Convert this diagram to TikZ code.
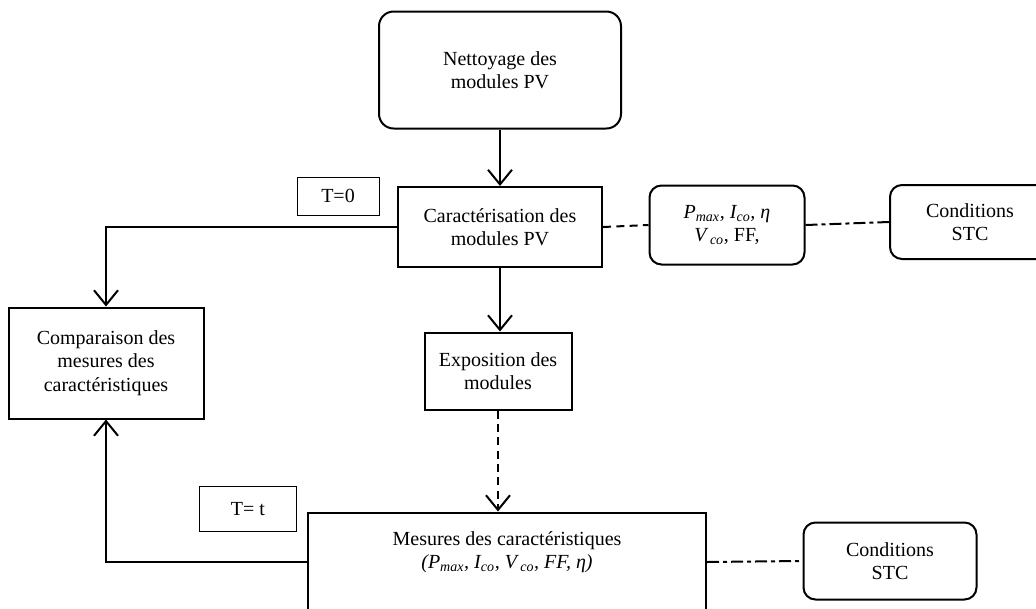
\documentclass[tikz,border=0pt]{standalone}
\usepackage{fontspec}
\setmainfont{Liberation Serif}
\usetikzlibrary{arrows.meta}

\begin{document}
\begin{tikzpicture}[x=0.75pt, y=-0.75pt,
    box/.style={draw, line width=1.5pt, inner sep=0pt, align=center, font=\fontsize{15}{17.5}\selectfont},
    rbox/.style={box, rounded corners=9pt},
    tag/.style={draw, line width=0.75pt, inner sep=0pt, font=\fontsize{15}{17.5}\selectfont},
    arr/.style={line width=1.5pt, -{Straight Barb[length=11pt, width=18pt, line width=1.5pt]}},
    lnk/.style={line width=1.5pt},
    dash1/.style={line width=1.5pt, dash pattern=on 6pt off 4pt},
    dashdot/.style={line width=1.5pt, dash pattern=on 9pt off 3pt on 3pt off 3pt}]
    \useasboundingbox (0,0) rectangle (1036,608);

    % Boxes
    \node[rbox, rounded corners=11pt, minimum width=181.5pt, minimum height=87.75pt] (nett) at (500,70) {Nettoyage des\\modules PV};
    \node[box, minimum width=153pt, minimum height=60pt] (carac) at (500,227) {Caractérisation des\\modules PV};
    \node[tag, minimum width=61.5pt, minimum height=28.5pt] (t0) at (338,196) {T=0};
    \node[rbox, minimum width=116.25pt, minimum height=59.25pt] (param) at (727,225)
        {\textit{P\textsubscript{max}, I\textsubscript{co}, η}\\\textit{V\,\textsubscript{co}}, FF,};
    \node[rbox, minimum width=120pt, minimum height=55.5pt] (stc1) at (970,222) {Conditions\\STC};
    \node[box, minimum width=146.25pt, minimum height=83.25pt] (comp) at (106,363) {Comparaison des\\mesures des\\caractéristiques};
    \node[box, minimum width=110.25pt, minimum height=57.75pt] (expo) at (498,371) {Exposition des\\modules};
    \node[box, minimum width=298.5pt, minimum height=74.25pt] (mes) at (507,562)
        {Mesures des caractéristiques\\\textit{(P\textsubscript{max}, I\textsubscript{co}, V\,\textsubscript{co}, FF, η)}\\\mbox{}};
    \node[tag, minimum width=72.75pt, minimum height=33.75pt] (tt) at (248,509) {T= t};
    \node[rbox, minimum width=129.75pt, minimum height=57.75pt] (stc2) at (890,561) {Conditions\\STC};

    % Links
    \draw[arr] (nett.south) -- (carac.north);
    \draw[arr] (carac.south) -- (carac.south |- expo.north);
    \draw[arr, dash1] (expo.south) -- (expo.south |- mes.north);
    \draw[arr] (carac.west) -| (comp.north);
    \draw[arr] (mes.west) -| (comp.south);
    \draw[dash1] (carac.east) -- (param.west);
    \draw[dashdot] (param.east) -- (stc1.west);
    \draw[dashdot] (mes.east) -- (stc2.west);
\end{tikzpicture}
\end{document}
